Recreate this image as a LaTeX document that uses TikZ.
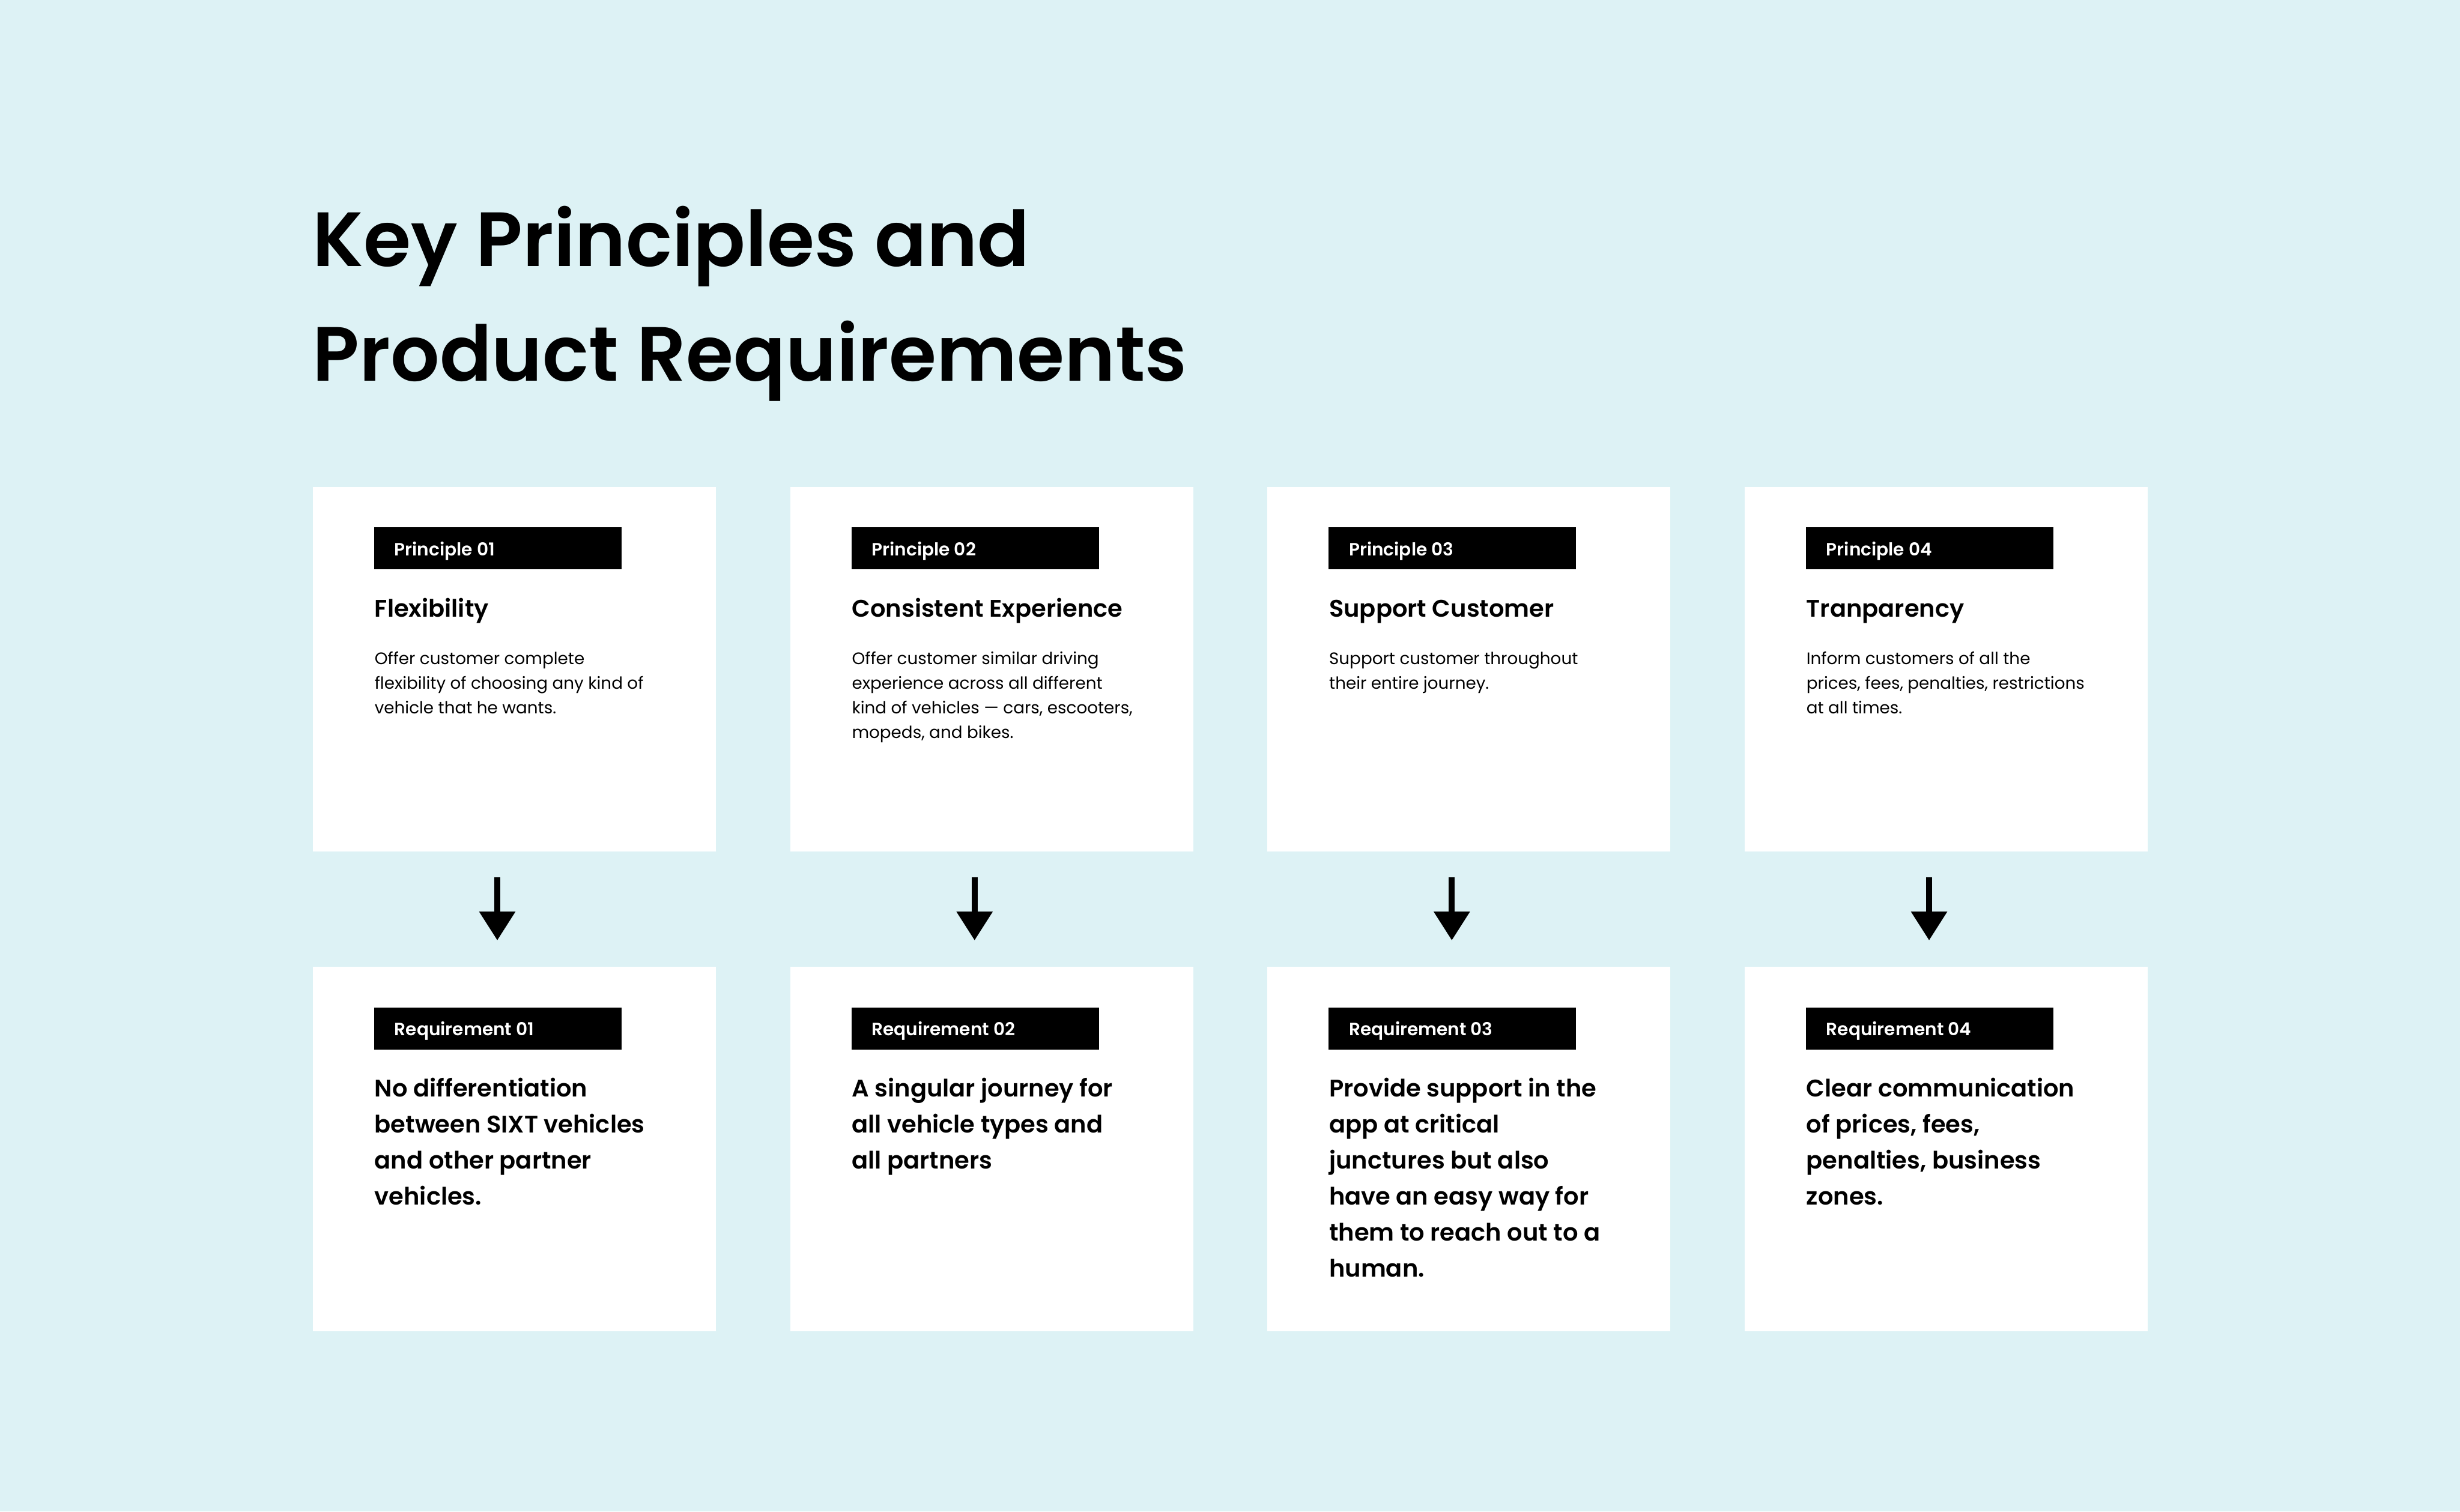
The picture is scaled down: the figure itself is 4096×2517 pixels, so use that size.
\documentclass[tikz,border=0pt]{standalone}
\usepackage{fontspec}
\setmainfont{Poppins}
\newfontfamily\popsb{Poppins SemiBold}
\usetikzlibrary{arrows.meta,calc}
\definecolor{bg}{HTML}{DDF2F5}
\tikzset{
 card/.style={fill=white, draw=none, minimum width=167.75pt, minimum height=151.75pt, inner sep=0pt, anchor=north west},
 tag/.style={fill=black, draw=none, minimum width=103pt, minimum height=17.5pt, inner sep=0pt, anchor=north west},
 tagtext/.style={text=white, font=\popsb\fontsize{7.4pt}{9pt}\selectfont, anchor=base west, inner sep=0pt},
 head/.style={font=\popsb\fontsize{10pt}{12pt}\selectfont, anchor=base west, inner sep=0pt},
 desc/.style={font=\fontsize{6.95pt}{10.25pt}\selectfont, anchor=base west, inner sep=0pt, align=left},
 req/.style={font=\popsb\fontsize{10pt}{15pt}\selectfont, anchor=base west, inner sep=0pt, align=left},
 title/.style={font=\popsb\fontsize{32pt}{47.75pt}\selectfont, anchor=base west, inner sep=0pt, align=left},
 flow/.style={line width=2.5pt, -{Triangle[width=14.5pt,length=12pt]}},
}
% #1 index, #2 left x, #3 heading, #4 description, #5 requirement,
% #6 description lines, #7 requirement lines (base anchor = last line)
\newcommand\mycol[7]{%
 \node[card] (p#1) at (#2,810) {};
 \node[tag] (pt#1) at (#2+102,877) {};
 \node[tagtext] (ptl#1) at (#2+136,925) {Principle 0#1};
 \node[head] (ph#1) at (#2+103,1027) {#3};
 \node[desc] (pd#1) at (#2+103,1106+41*#6-41) {#4};
 \node[card] (r#1) at (#2,1609) {};
 \node[tag] (rt#1) at (#2+102,1677) {};
 \node[tagtext] (rtl#1) at (#2+136,1724) {Requirement 0#1};
 \node[req] (rq#1) at (#2+103,1826+60*#7-60) {#5};
 \draw[flow] ($(p#1.south west)+(308,42)$) -- ($(r#1.north west)+(308,-43)$);
}
\begin{document}
\begin{tikzpicture}[x=0.25pt,y=-0.25pt]
\fill[bg] (0,0) rectangle (4096,2517);
\node[title] (title) at (520,634) {Key Principles and\\Product Requirements};
\mycol{1}{520}{Flexibility}{Offer customer complete\\flexibility of choosing any kind of\\vehicle that he wants.}{No differentiation\\between SIXT vehicles\\and other partner\\vehicles.}{3}{4}
\mycol{2}{1314.7}{Consistent Experience}{Offer customer similar driving\\experience across all different\\kind of vehicles — cars, escooters,\\mopeds, and bikes.}{A singular journey for\\all vehicle types and\\all partners}{4}{3}
\mycol{3}{2109.3}{Support Customer}{Support customer throughout\\their entire journey.}{Provide support in the\\app at critical\\junctures but also\\have an easy way for\\them to reach out to a\\human.}{2}{6}
\mycol{4}{2904}{Tranparency}{Inform customers of all the\\prices, fees, penalties, restrictions\\at all times.}{Clear communication\\of prices, fees,\\penalties, business\\zones.}{3}{4}
\end{tikzpicture}
\end{document}
